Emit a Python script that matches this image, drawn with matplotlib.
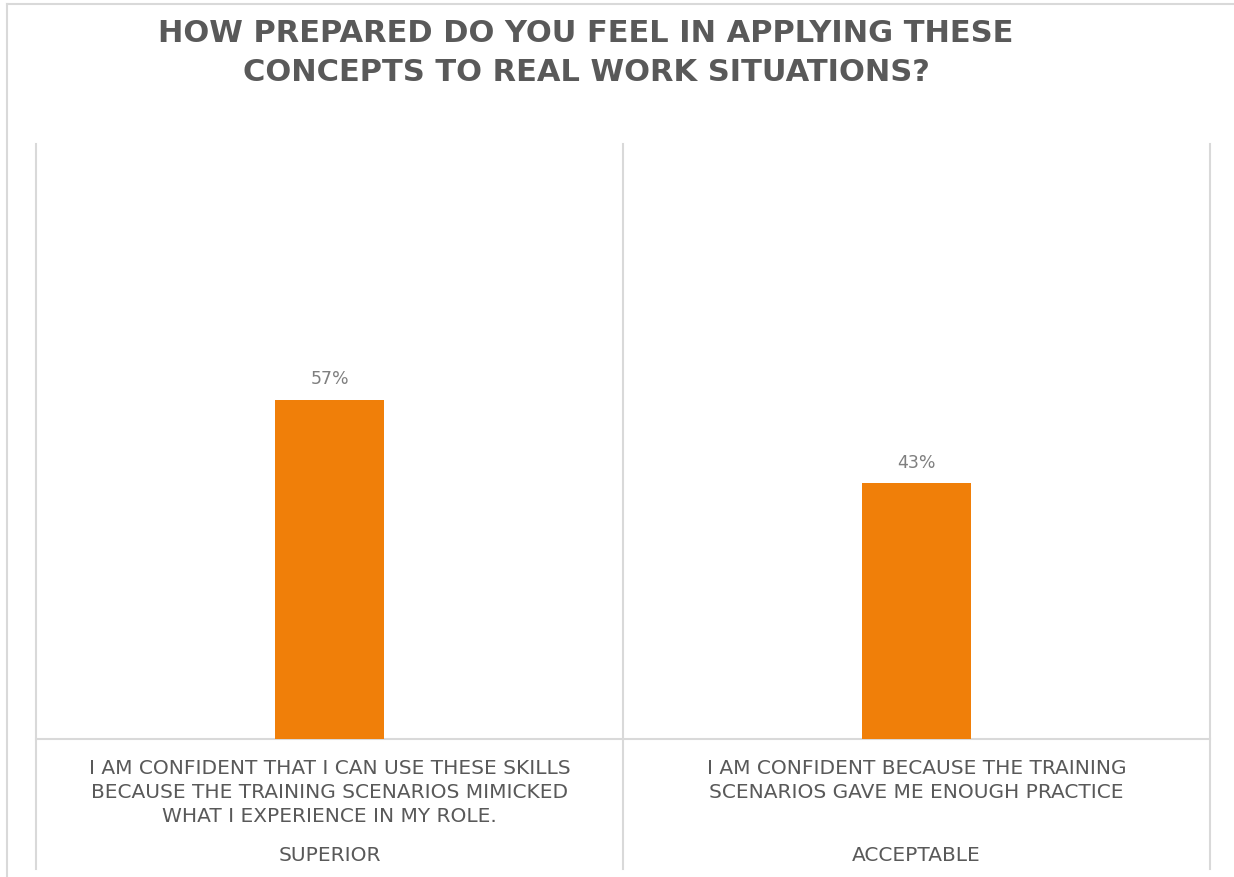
import matplotlib
matplotlib.use('Agg')
import matplotlib.pyplot as plt
from matplotlib.lines import Line2D

# data
categories = ["I AM CONFIDENT THAT I CAN USE THESE SKILLS\nBECAUSE THE TRAINING SCENARIOS MIMICKED\nWHAT I EXPERIENCE IN MY ROLE.",
              "I AM CONFIDENT BECAUSE THE TRAINING\nSCENARIOS GAVE ME ENOUGH PRACTICE"]
groups = ["SUPERIOR", "ACCEPTABLE"]
values = [0.57, 0.43]
title = "HOW PREPARED DO YOU FEEL IN APPLYING THESE\nCONCEPTS TO REAL WORK SITUATIONS?"

BAR = '#F07F09'
GRID = '#D9D9D9'
TEXT = '#595959'

W, H = 1234, 878
fig = plt.figure(figsize=(W / 100, H / 100), dpi=100)
plt.rcParams['font.family'] = ['DejaVu Sans']

# outer chart border (only top and left show in the crop)
fig.lines.append(Line2D([7 / W, 1], [1 - 5 / H, 1 - 5 / H], transform=fig.transFigure,
                        color=GRID, lw=1.5))
fig.lines.append(Line2D([7 / W, 7 / W], [0, 1 - 5 / H], transform=fig.transFigure,
                        color=GRID, lw=1.5))

left, right, top, base = 36, 1210, 145, 740
ax = fig.add_axes([left / W, (H - base) / H, (right - left) / W, (base - top) / H])
x = range(len(values))
ax.bar(x, values, width=0.184, color=BAR, zorder=3)
ax.set_xlim(-0.5, len(values) - 0.5)
ax.set_ylim(0, 1)
for s in ['top', 'left', 'right']:
    ax.spines[s].set_visible(False)
ax.spines['bottom'].set_color(GRID)
ax.spines['bottom'].set_linewidth(1.5)
ax.set_xticks([])
ax.set_yticks([])

# category separators, running down through the label rows
ext = -(870 - base) / (base - top)
trans = ax.get_xaxis_transform()
for b in [i - 0.5 for i in range(len(values) + 1)]:
    ax.plot([b, b], [ext, 1], color=GRID, lw=1.5, transform=trans, clip_on=False)

px = 1 / (base - top)
for i, v in enumerate(values):
    ax.annotate(f"{v:.0%}", (i, v), xytext=(0, 9), textcoords='offset points',
                ha='center', va='bottom', fontsize=12.5, color='#7F7F7F')
    ax.text(i, -19 * px, categories[i], transform=trans, ha='center', va='top',
            fontsize=14.5, color=TEXT, linespacing=1.32)
    ax.text(i, -(856 - base) * px, groups[i], transform=trans, ha='center', va='center',
            fontsize=14.5, color=TEXT)

fig.text(586 / W, 1 - 53 / H, title, ha='center', va='center', fontsize=22,
         fontweight='bold', color=TEXT, linespacing=1.45)

fig.savefig('out.png', dpi=100)
